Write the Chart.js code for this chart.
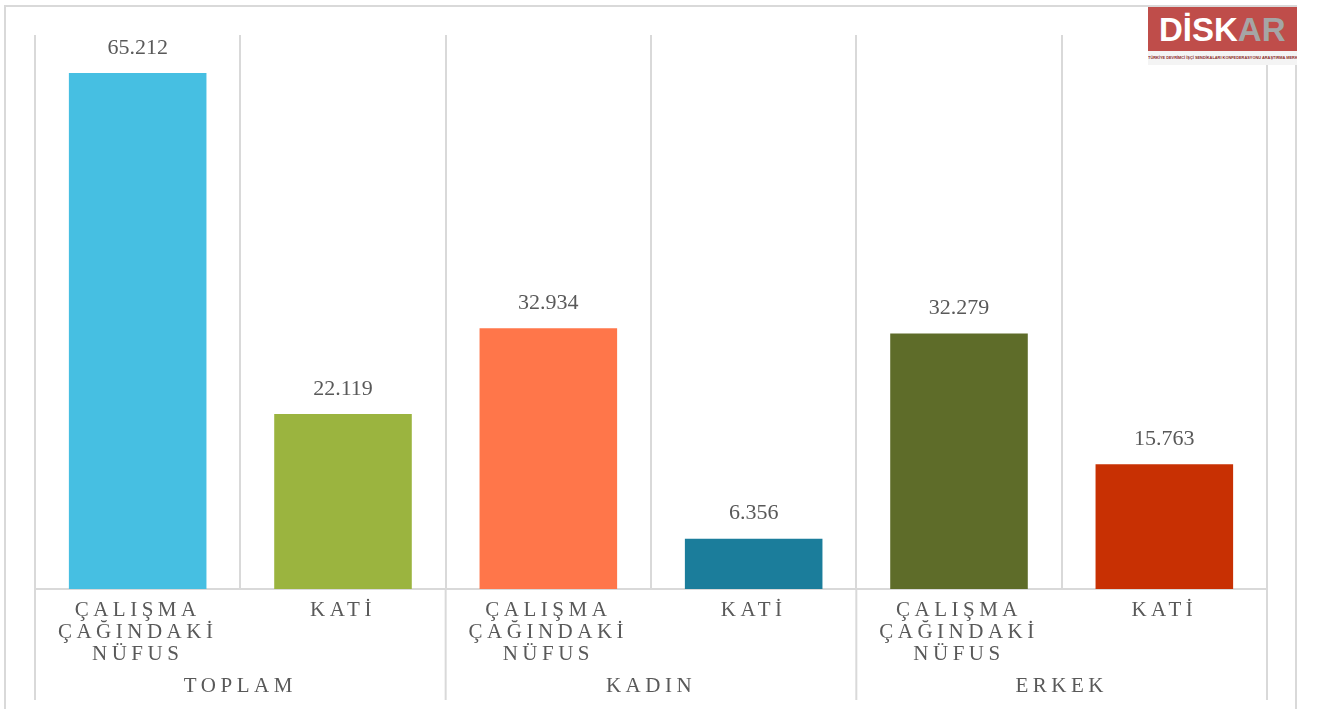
<!DOCTYPE html>
<html>
<head>
<meta charset="utf-8">
<script src="https://cdn.jsdelivr.net/npm/chart.js@4.4.1/dist/chart.umd.min.js"></script>
<style>
  html, body { margin: 0; padding: 0; background: #fff; }
  #frame { position: absolute; left: 4px; top: 5px; width: 1293px; height: 710px; border: 2px solid #d9d9d9; box-sizing: border-box; }
  #wrap { position: absolute; left: 0; top: 0; width: 1319px; height: 709px; }
  #logo { position: absolute; left: 1148px; top: 7px; width: 149px; height: 58px; background: #fff; overflow: hidden; }
  #logo .top { height: 44px; background: #bf4d4a; font-family: "Liberation Sans", sans-serif; font-weight: bold; font-size: 33px; line-height: 46px; padding-left: 11px; white-space: nowrap; }
  #logo .top .w { color: #fff; }
  #logo .top .g { color: #a5a5a5; }
  #logo .sub { height: 14px; background: #f4f4f4; color: #8a2b28; font-family: "Liberation Sans", sans-serif; font-size: 3.9px; line-height: 14px; text-align: center; font-weight: bold; white-space: nowrap; }
</style>
</head>
<body>
<div id="frame"></div>
<div id="wrap"><canvas id="kati-chart"></canvas></div>
<div id="logo">
  <div class="top"><span class="w">DİSK</span><span class="g">AR</span></div>
  <div class="sub">TÜRKİYE DEVRİMCİ İŞÇİ SENDİKALARI KONFEDERASYONU ARAŞTIRMA MERKEZİ</div>
</div>
<script>
//? data
const categories = [['ÇALIŞMA', 'ÇAĞINDAKİ', 'NÜFUS'], 'KATİ', ['ÇALIŞMA', 'ÇAĞINDAKİ', 'NÜFUS'], 'KATİ', ['ÇALIŞMA', 'ÇAĞINDAKİ', 'NÜFUS'], 'KATİ']
const groups = ['TOPLAM', 'KADIN', 'ERKEK']
const values = [65212, 22119, 32934, 6356, 32279, 15763]

const barColors = ['#46bfe2', '#9bb43f', '#ff764a', '#1b7d9b', '#5e6c29', '#c83003']
const gridColor = '#d9d9d9'
const textColor = '#595959'
const serif = "'Liberation Serif', 'DejaVu Serif', serif"

const fmt = v => String(v).replace(/\B(?=(\d{3})+(?!\d))/g, '.')

//? letter spacing for axis labels, value labels and group separators
const labelsPlugin = {
    id: 'labels',
    beforeDraw(chart) {
        chart.ctx.letterSpacing = '4.5px'
    },
    beforeDatasetsDraw(chart) {
        chart.ctx.letterSpacing = '0px'
    },
    afterDatasetsDraw(chart) {
        const ctx = chart.ctx
        const meta = chart.getDatasetMeta(0)
        ctx.save()
        ctx.font = '22px ' + serif
        ctx.fillStyle = textColor
        ctx.textAlign = 'center'
        ctx.textBaseline = 'middle'
        meta.data.forEach((bar, i) => {
            ctx.fillText(fmt(values[i]), bar.x, bar.y - 25)
        })
        // group separators below the axis
        const x = chart.scales.x
        const step = x.getPixelForValue(1) - x.getPixelForValue(0)
        ctx.strokeStyle = gridColor
        ctx.lineWidth = 2
        for (let g = 0; g <= groups.length; g++) {
            const px = x.getPixelForValue(g * 2) - step / 2
            ctx.beginPath()
            ctx.moveTo(px, chart.chartArea.bottom)
            ctx.lineTo(px, 700)
            ctx.stroke()
        }
        ctx.restore()
    }
}

const configKati = {
    type: 'bar',
    data: {
        labels: categories,
        datasets: [
            {
                label: 'Kişi',
                data: values,
                backgroundColor: barColors,
                barPercentage: 0.67,
                categoryPercentage: 1
            }
        ]
    },
    options: {
        responsive: true,
        maintainAspectRatio: false,
        animation: false,
        layout: { padding: { left: 35, right: 52, top: 35, bottom: 0 } },
        plugins: {
            legend: { display: false },
            tooltip: { enabled: false }
        },
        scales: {
            y: {
                display: false,
                min: 0,
                max: 70000
            },
            x: {
                weight: 0,
                offset: true,
                grid: { display: true, offset: true, color: gridColor, lineWidth: 2, drawTicks: false },
                border: { display: true, color: gridColor, width: 2 },
                ticks: {
                    color: textColor,
                    font: { family: serif, size: 21, lineHeight: '22px' },
                    padding: 10,
                    maxRotation: 0,
                    autoSkip: false
                },
                afterFit: scale => { scale.height = 75 }
            },
            x2: {
                type: 'category',
                position: 'bottom',
                weight: 1,
                labels: groups,
                offset: true,
                grid: { display: false, drawTicks: false },
                border: { display: false },
                ticks: {
                    color: textColor,
                    font: { family: serif, size: 21, lineHeight: '22px' },
                    padding: 11,
                    maxRotation: 0
                },
                afterFit: scale => { scale.height = 45 }
            }
        }
    },
    plugins: [labelsPlugin]
}

const katiCanvas = document.getElementById('kati-chart')
const katiChart = new Chart(katiCanvas, configKati)
</script>
</body>
</html>
